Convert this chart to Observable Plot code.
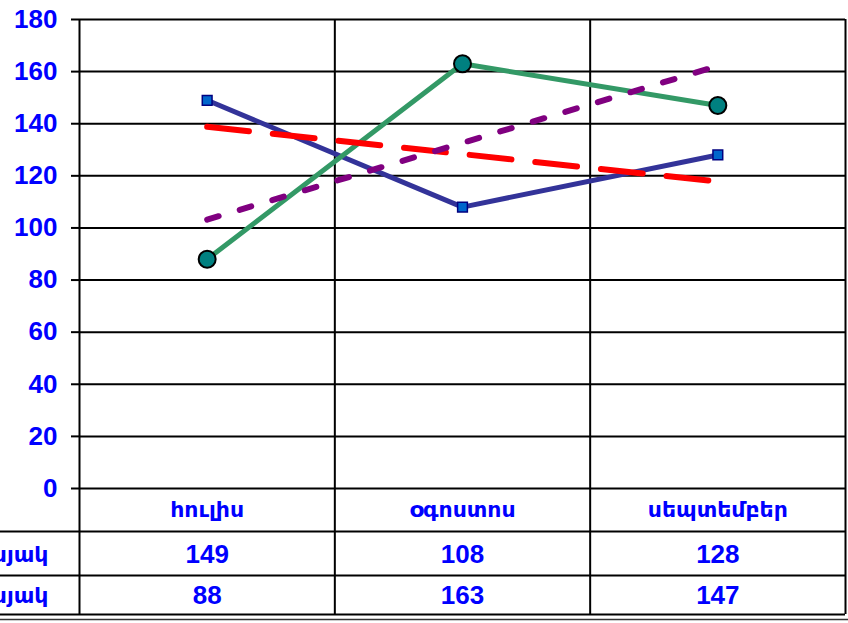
<!DOCTYPE html>
<html>
<head>
<meta charset="utf-8">
<script src="https://cdn.jsdelivr.net/npm/d3@7"></script>
<script src="https://cdn.jsdelivr.net/npm/@observablehq/plot@0.6"></script>
<style>
  html, body { margin: 0; padding: 0; background: white; overflow: hidden; }
</style>
</head>
<body>
<div id="chart"></div>
<script>
const months = ["հուլիս", "օգոստոս", "սեպտեմբեր"];
const rowLabels = ["2008թ. III եռամսյակ", "2009թ. III եռամսյակ"];
const seriesA = [149, 108, 128];
const seriesB = [88, 163, 147];
const yTicks = [0, 20, 40, 60, 80, 100, 120, 140, 160, 180];

const rows = months.map((m, i) => ({i, month: m, a: seriesA[i], b: seriesB[i]}));
const bounds = [-0.5, 0.5, 1.5, 2.5];

const blue = "#0000FF";
const font = "Liberation Sans, Arial, DejaVu Sans, sans-serif";
const armFont = "DejaVu Sans, sans-serif";

const chart = Plot.plot({
  width: 848,
  height: 623,
  marginLeft: 79,
  marginRight: 3,
  marginTop: 19,
  marginBottom: 135,
  style: {fontFamily: font, background: "white", overflow: "visible"},
  x: {domain: [-0.5, 2.5], axis: null},
  y: {domain: [0, 180], axis: null},
  marks: [
    // horizontal grid
    Plot.ruleY(yTicks, {stroke: "black", strokeWidth: 2}),
    // vertical separators through chart and table
    Plot.ruleX(bounds, {stroke: "black", strokeWidth: 2, insetBottom: -126}),
    // table row lines
    Plot.ruleY([0], {stroke: "black", strokeWidth: 2, dy: 43, insetLeft: -79}),
    Plot.ruleY([0], {stroke: "black", strokeWidth: 2, dy: 87, insetLeft: -79}),
    Plot.ruleY([0], {stroke: "black", strokeWidth: 2, dy: 126, insetLeft: -79}),
    Plot.ruleY([0], {stroke: "#333", strokeWidth: 1.5, dy: 131, insetLeft: -79, insetRight: -3}),
    // y axis
    Plot.axisY(yTicks, {color: "black", fill: blue, tickSize: 8, tickPadding: 14, strokeWidth: 2,
      fontSize: 26, fontWeight: "bold", label: null}),
    // series lines
    Plot.line(rows, {x: "i", y: "a", stroke: "#333399", strokeWidth: 5}),
    Plot.line(rows, {x: "i", y: "b", stroke: "#339966", strokeWidth: 5}),
    // trend lines
    Plot.linearRegressionY(rows, {x: "i", y: "a", stroke: "#FF0000", strokeWidth: 6,
      strokeDasharray: "42,24", ci: 0}),
    Plot.linearRegressionY(rows, {x: "i", y: "b", stroke: "#800080", strokeWidth: 6,
      strokeDasharray: "12,22", ci: 0}),
    // markers
    Plot.dot(rows, {x: "i", y: "a", symbol: "square", r: 5.5, fill: "#0066CC", stroke: "#000080", strokeWidth: 1.5}),
    Plot.dot(rows, {x: "i", y: "b", symbol: "circle", r: 8.5, fill: "#008080", stroke: "black", strokeWidth: 2}),
    // table text
    Plot.text(rows, {x: "i", text: "month", frameAnchor: "bottom", lineAnchor: "middle", dy: 21, fill: blue,
      fontSize: 22, fontWeight: "bold", fontFamily: armFont}),
    Plot.text(rows, {x: "i", text: d => String(d.a), frameAnchor: "bottom", lineAnchor: "middle", dy: 66, fill: blue,
      fontSize: 26, fontWeight: "bold"}),
    Plot.text(rows, {x: "i", text: d => String(d.b), frameAnchor: "bottom", lineAnchor: "middle", dy: 107, fill: blue,
      fontSize: 26, fontWeight: "bold"}),
    Plot.text([rowLabels[0]], {text: d => d, frameAnchor: "bottom-left", lineAnchor: "middle", dx: -31, dy: 66,
      textAnchor: "end", fill: blue, fontSize: 22, fontWeight: "bold", fontFamily: armFont}),
    Plot.text([rowLabels[1]], {text: d => d, frameAnchor: "bottom-left", lineAnchor: "middle", dx: -31, dy: 107,
      textAnchor: "end", fill: blue, fontSize: 22, fontWeight: "bold", fontFamily: armFont})
  ]
});
document.getElementById("chart").appendChild(chart);
</script>
</body>
</html>
